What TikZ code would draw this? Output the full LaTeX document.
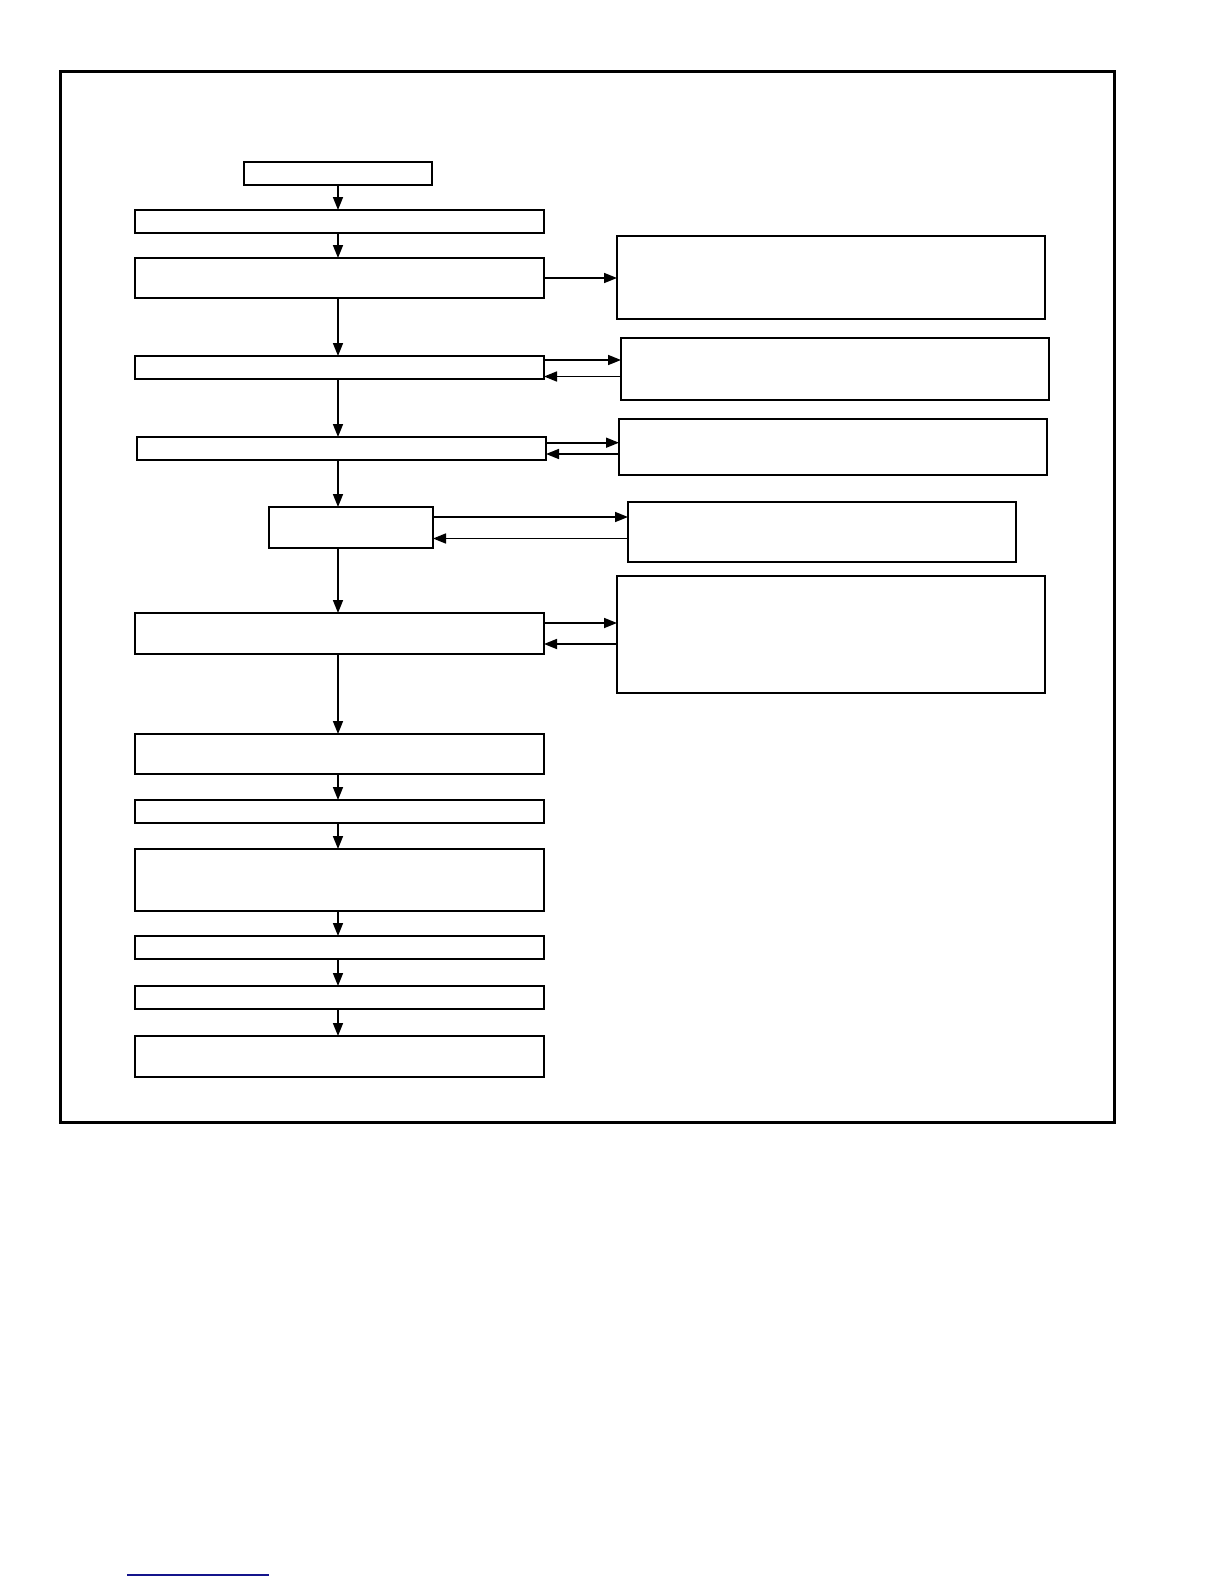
\documentclass[tikz,border=0pt]{standalone}
\usepackage{xcolor}
\usepackage{tikz}
\usetikzlibrary{positioning,calc,arrows.meta}
\definecolor{linkblue}{RGB}{20,20,140}
\tikzset{
  blk/.style={draw, line width=2pt, anchor=north west, inner sep=0pt, outer sep=0pt},
  flow/.style={line width=1.7pt, -{Triangle[length=13pt,width=10pt]}}
}
\begin{document}
\begin{tikzpicture}[x=1pt,y=-1pt]
    \useasboundingbox (0,0) rectangle (1224,1584);
    % Frame
    \draw[line width=3pt] (60,72) rectangle (1114,1122);
    % Main column
    \node[blk, minimum width=188pt, minimum height=23pt] (start) at (244,162) {};
    \node[blk, minimum width=409pt, minimum height=23pt] (b1) at (135,210) {};
    \node[blk, minimum width=409pt, minimum height=40pt] (b2) at (135,258) {};
    \node[blk, minimum width=409pt, minimum height=23pt] (b3) at (135,356) {};
    \node[blk, minimum width=409pt, minimum height=23pt] (b4) at (137,437) {};
    \node[blk, line width=1.5pt, minimum width=164pt, minimum height=41pt] (b5) at (269,507) {};
    \node[blk, line width=1.5pt, minimum width=409pt, minimum height=41pt] (b6) at (135,613) {};
    \node[blk, minimum width=409pt, minimum height=40pt] (b7) at (135,734) {};
    \node[blk, minimum width=409pt, minimum height=23pt] (b8) at (135,800) {};
    \node[blk, minimum width=409pt, minimum height=62pt] (b9) at (135,849) {};
    \node[blk, minimum width=409pt, minimum height=23pt] (b10) at (135,936) {};
    \node[blk, minimum width=409pt, minimum height=23pt] (b11) at (135,986) {};
    \node[blk, minimum width=409pt, minimum height=41pt] (b12) at (135,1036) {};
    % Side boxes
    \node[blk, minimum width=428pt, minimum height=83pt] (r1) at (617,236) {};
    \node[blk, minimum width=428pt, minimum height=62pt] (r2) at (621,338) {};
    \node[blk, minimum width=428pt, minimum height=56pt] (r3) at (619,419) {};
    \node[blk, line width=1.5pt, minimum width=388pt, minimum height=60pt] (r4) at (628,502) {};
    \node[blk, minimum width=428pt, minimum height=117pt] (r5) at (617,576) {};
    % Down the column
    \foreach \a/\b in {start/b1, b1/b2, b2/b3, b3/b4, b4/b5, b5/b6, b6/b7, b7/b8, b8/b9, b9/b10, b10/b11, b11/b12}
        \draw[flow] (\a.south -| start.south) -- (\b.north -| start.south);
    % To and from the side boxes
    \draw[flow] (b2.east) -- (b2.east -| r1.west);
    \draw[flow] ([yshift=7.5pt]b3.east) -- ([yshift=7.5pt]b3.east -| r2.west);
    \draw[flow] ([yshift=-9pt]b3.east -| r2.west) -- ([yshift=-9pt]b3.east);
    \draw[flow] ([yshift=5.8pt]b4.east) -- ([yshift=5.8pt]b4.east -| r3.west);
    \draw[flow] ([yshift=-5.5pt]b4.east -| r3.west) -- ([yshift=-5.5pt]b4.east);
    \draw[flow] ([yshift=10.5pt]b5.east) -- ([yshift=10.5pt]b5.east -| r4.west);
    \draw[flow] ([yshift=-11pt]b5.east -| r4.west) -- ([yshift=-11pt]b5.east);
    \draw[flow] ([yshift=10.5pt]b6.east) -- ([yshift=10.5pt]b6.east -| r5.west);
    \draw[flow] ([yshift=-10.5pt]b6.east -| r5.west) -- ([yshift=-10.5pt]b6.east);
    % Rule at foot
    \draw[linkblue, line width=1.5pt] (127,1575) -- (269,1575);
\end{tikzpicture}
\end{document}
